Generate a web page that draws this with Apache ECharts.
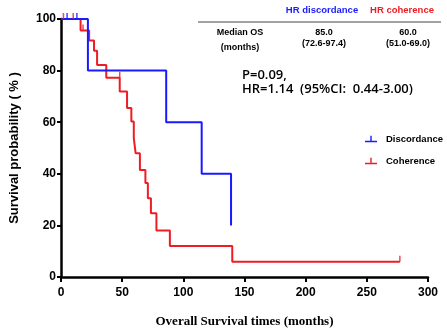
<!DOCTYPE html>
<html>
<head>
<meta charset="utf-8">
<script src="https://cdn.jsdelivr.net/npm/echarts@6/dist/echarts.min.js"></script>
<style>
  html, body { margin: 0; padding: 0; background: #fff; }
  #chart { width: 447px; height: 335px; }
</style>
</head>
<body>
<div id="chart"></div>
<script>
// Kaplan-Meier steps: [months, survival %]
var discordanceSteps = [[0, 100], [22, 80], [86, 60], [115, 40], [139, 20]];
var coherenceSteps = [
    [0, 100], [16, 95.5], [23, 91.7], [27, 87.7], [29.5, 82.2], [37, 77.2],
    [48, 71.9], [54, 65.5], [57.5, 60.3], [59.5, 53.8], [61, 48], [64.5, 41.5],
    [69, 36.4], [71, 30.5], [73.5, 24.7], [78, 18], [89, 12], [140, 5.9], [277, 5.9]
];
// censored observations
var discordanceCensor = [[5, 100], [13, 100]];
var coherenceCensor = [[2, 100], [10, 100], [18, 95.5], [48, 77.2], [277, 5.9]];

var xTicks = [0, 50, 100, 150, 200, 250, 300];
var yTicks = [0, 20, 40, 60, 80, 100];

var BLUE = '#1a1aff';
var RED = '#ee1c25';
var legendIcon = 'path://M0,9L12,9L12,10.5L0,10.5Z M5.3,4L6.7,4L6.7,9L5.3,9Z';

var chart = echarts.init(document.getElementById('chart'));

function censorSeries(name, data, color) {
    return {
        name: name,
        type: 'scatter',
        data: data,
        symbol: 'rect',
        symbolSize: [1.5, 6],
        symbolOffset: [0, -3],
        itemStyle: { color: color },
        silent: true,
        z: 4
    };
}

var cellFont = 'bold 9px "Liberation Sans"';

var option = {
    animation: false,
    backgroundColor: '#fff',
    grid: { left: 58, top: 19, width: 370, height: 258, containLabel: false },
    legend: {
        orient: 'vertical',
        left: 365,
        top: 134,
        padding: 0,
        itemWidth: 12,
        itemHeight: 11,
        itemGap: 12,
        data: [
            { name: 'Discordance', icon: legendIcon },
            { name: 'Coherence', icon: legendIcon }
        ],
        textStyle: { fontFamily: 'Liberation Sans', fontWeight: 'bold', fontSize: 9.5, color: '#000', padding: [0, 0, 0, 4] }
    },
    xAxis: {
        type: 'value',
        min: xTicks[0],
        max: xTicks[xTicks.length - 1],
        interval: 50,
        name: 'Overall Survival times (months)',
        nameLocation: 'middle',
        nameGap: 38,
        nameTextStyle: { fontFamily: 'Liberation Serif', fontWeight: 'bold', fontSize: 13, color: '#000' },
        axisLine: { lineStyle: { color: '#000', width: 2.5 } },
        axisTick: { length: 5, lineStyle: { color: '#000', width: 2 } },
        axisLabel: { margin: 10, fontFamily: 'Liberation Sans', fontWeight: 'bold', fontSize: 12, color: '#000' },
        splitLine: { show: false }
    },
    yAxis: {
        type: 'value',
        min: yTicks[0],
        max: yTicks[yTicks.length - 1],
        interval: 20,
        name: 'Survival probability ( % )',
        nameLocation: 'middle',
        nameGap: 40,
        nameTextStyle: { fontFamily: 'Liberation Sans', fontWeight: 'bold', fontSize: 13, color: '#000' },
        axisLine: { show: true, lineStyle: { color: '#000', width: 2.5 } },
        axisTick: { show: true, length: 4, lineStyle: { color: '#000', width: 2 } },
        axisLabel: { margin: 5, fontFamily: 'Liberation Sans', fontWeight: 'bold', fontSize: 12, color: '#000' },
        splitLine: { show: false }
    },
    series: [
        {
            name: 'Coherence',
            type: 'line',
            step: 'end',
            data: coherenceSteps,
            showSymbol: false,
            symbol: 'none',
            lineStyle: { color: RED, width: 2 },
            itemStyle: { color: RED },
            z: 2
        },
        {
            name: 'Discordance',
            type: 'line',
            step: 'end',
            data: discordanceSteps,
            showSymbol: false,
            symbol: 'none',
            lineStyle: { color: BLUE, width: 2 },
            itemStyle: { color: BLUE },
            z: 3
        },
        censorSeries('Coherence', coherenceCensor, RED),
        censorSeries('Discordance', discordanceCensor, BLUE)
    ],
    graphic: [
        { type: 'text', x: 322, y: 10, style: { text: 'HR discordance', fill: BLUE, font: 'bold 9.5px "Liberation Sans"', align: 'center', verticalAlign: 'middle' } },
        { type: 'text', x: 402, y: 10, style: { text: 'HR coherence', fill: RED, font: 'bold 9.5px "Liberation Sans"', align: 'center', verticalAlign: 'middle' } },
        { type: 'line', shape: { x1: 198, y1: 22, x2: 441, y2: 22 }, style: { stroke: '#444', lineWidth: 1 } },
        { type: 'text', x: 240, y: 33, style: { text: 'Median OS', fill: '#000', font: cellFont, align: 'center', verticalAlign: 'middle' } },
        { type: 'text', x: 240, y: 48, style: { text: '(months)', fill: '#000', font: cellFont, align: 'center', verticalAlign: 'middle' } },
        { type: 'text', x: 324, y: 33, style: { text: '85.0', fill: '#000', font: cellFont, align: 'center', verticalAlign: 'middle' } },
        { type: 'text', x: 324, y: 44, style: { text: '(72.6-97.4)', fill: '#000', font: cellFont, align: 'center', verticalAlign: 'middle' } },
        { type: 'text', x: 408, y: 33, style: { text: '60.0', fill: '#000', font: cellFont, align: 'center', verticalAlign: 'middle' } },
        { type: 'text', x: 408, y: 44, style: { text: '(51.0-69.0)', fill: '#000', font: cellFont, align: 'center', verticalAlign: 'middle' } },
        { type: 'text', x: 242, y: 75, style: { text: 'P=0.09,', fill: '#000', font: '600 13px "Open Sans"', verticalAlign: 'middle' } },
        { type: 'text', x: 242, y: 89, style: { text: 'HR=1.14  (95%CI:  0.44-3.00)', fill: '#000', font: '600 13px "Open Sans"', verticalAlign: 'middle' } }
    ]
};

chart.setOption(option);
</script>
</body>
</html>
